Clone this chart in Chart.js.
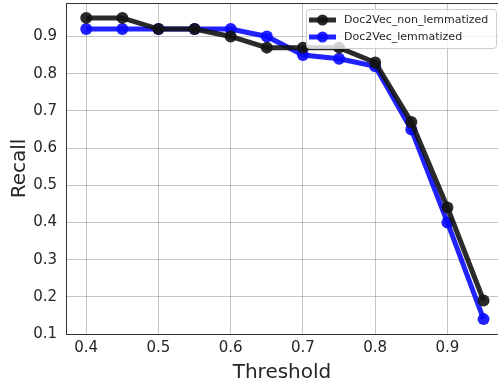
<!DOCTYPE html>
<html>
<head>
<meta charset="utf-8">
<script src="https://cdn.jsdelivr.net/npm/chart.js@4"></script>
<style>
  html, body { margin: 0; padding: 0; background: #fff; }
  #wrap { width: 498px; height: 385px; }
</style>
</head>
<body>
<div id="wrap"><canvas id="myChart" width="498" height="385"></canvas></div>
<script>
const thresholds = [0.4, 0.45, 0.5, 0.55, 0.6, 0.65, 0.7, 0.75, 0.8, 0.85, 0.9, 0.95];
const nonLemmatized = [0.95, 0.95, 0.92, 0.92, 0.90, 0.87, 0.87, 0.87, 0.83, 0.67, 0.44, 0.19];
const lemmatized = [0.92, 0.92, 0.92, 0.92, 0.92, 0.90, 0.85, 0.84, 0.82, 0.65, 0.40, 0.14];
const xTicks = [0.4, 0.5, 0.6, 0.7, 0.8, 0.9];
const yTicks = [0.1, 0.2, 0.3, 0.4, 0.5, 0.6, 0.7, 0.8, 0.9];

const ctx = document.getElementById("myChart").getContext("2d");

// matplotlib-like legend inside the plot + top spine
const boxLegend = {
  id: "boxLegend",
  afterDraw(chart) {
    const c = chart.ctx;
    const a = chart.chartArea;
    c.save();
    c.strokeStyle = "#333";
    c.lineWidth = 1;
    c.beginPath();
    c.moveTo(a.left, a.top + 0.5);
    c.lineTo(a.right, a.top + 0.5);
    c.stroke();

    const x0 = 306, y0 = 9, w = 190, h = 39;
    c.fillStyle = "rgba(255,255,255,0.8)";
    c.strokeStyle = "rgba(200,200,200,0.9)";
    c.beginPath();
    c.roundRect(x0 + 0.5, y0 + 0.5, w, h, 3);
    c.fill();
    c.stroke();
    c.font = "11px 'DejaVu Sans'";
    c.textBaseline = "middle";
    chart.data.datasets.forEach((ds, i) => {
      const yy = y0 + 11 + i * 17;
      c.strokeStyle = ds.borderColor;
      c.lineWidth = 5;
      c.beginPath();
      c.moveTo(x0 + 3, yy);
      c.lineTo(x0 + 30, yy);
      c.stroke();
      c.fillStyle = ds.borderColor;
      c.beginPath();
      c.arc(x0 + 16.5, yy, 5.5, 0, Math.PI * 2);
      c.fill();
      c.fillStyle = "#262626";
      c.fillText(ds.label, x0 + 38, yy);
    });
    c.restore();
  }
};

function noPad(s) {
  s.paddingTop = 0;
  s.paddingBottom = 0;
  s.paddingLeft = 0;
  s.paddingRight = 0;
}

const data = {
  labels: thresholds,
  datasets: [
    {
      label: "Doc2Vec_non_lemmatized",
      data: thresholds.map((t, i) => ({ x: t, y: nonLemmatized[i] })),
      borderColor: "rgba(20,20,20,0.9)",
      backgroundColor: "rgba(20,20,20,0.9)",
      borderWidth: 5,
      pointRadius: 6,
      pointHoverRadius: 6,
      pointBorderWidth: 0,
    },
    {
      label: "Doc2Vec_lemmatized",
      data: thresholds.map((t, i) => ({ x: t, y: lemmatized[i] })),
      borderColor: "rgba(10,10,255,0.9)",
      backgroundColor: "rgba(10,10,255,0.9)",
      borderWidth: 5,
      pointRadius: 6,
      pointHoverRadius: 6,
      pointBorderWidth: 0,
    },
  ],
};

const config = {
  type: "line",
  data: data,
  plugins: [boxLegend],
  options: {
    responsive: false,
    animation: false,
    layout: { autoPadding: false, padding: { top: 3, right: 0, left: 0, bottom: 0 } },
    plugins: {
      legend: { display: false },
      tooltip: { enabled: false },
    },
    scales: {
      x: {
        type: "linear",
        min: 0.372,
        max: 0.97,
        afterBuildTicks: (s) => { s.ticks = xTicks.map(v => ({ value: v })); },
        afterFit: (s) => { s.height = 51; noPad(s); },
        ticks: {
          callback: (v) => v.toFixed(1),
          font: { family: "DejaVu Sans", size: 15 },
          color: "#262626",
          padding: 5,
          maxRotation: 0,
        },
        grid: { color: "rgba(150,150,150,0.55)", lineWidth: 1, drawTicks: false },
        border: { color: "#333", width: 1 },
        title: {
          display: true,
          text: "Threshold",
          font: { family: "DejaVu Sans", size: 20 },
          color: "#262626",
          padding: { top: 2, bottom: 0 },
        },
      },
      y: {
        type: "linear",
        min: 0.1,
        max: 0.99,
        afterBuildTicks: (s) => { s.ticks = yTicks.map(v => ({ value: v })); },
        afterFit: (s) => { s.width = 66; noPad(s); },
        ticks: {
          callback: (v) => v.toFixed(1),
          font: { family: "DejaVu Sans", size: 15 },
          color: "#262626",
          padding: 9,
        },
        grid: { color: "rgba(150,150,150,0.55)", lineWidth: 1, drawTicks: false },
        border: { color: "#333", width: 1 },
        title: {
          display: true,
          text: "Recall",
          font: { family: "DejaVu Sans", size: 20 },
          color: "#262626",
          padding: { top: 8, bottom: 2 },
        },
      },
    },
  },
};

new Chart(ctx, config);
</script>
</body>
</html>
